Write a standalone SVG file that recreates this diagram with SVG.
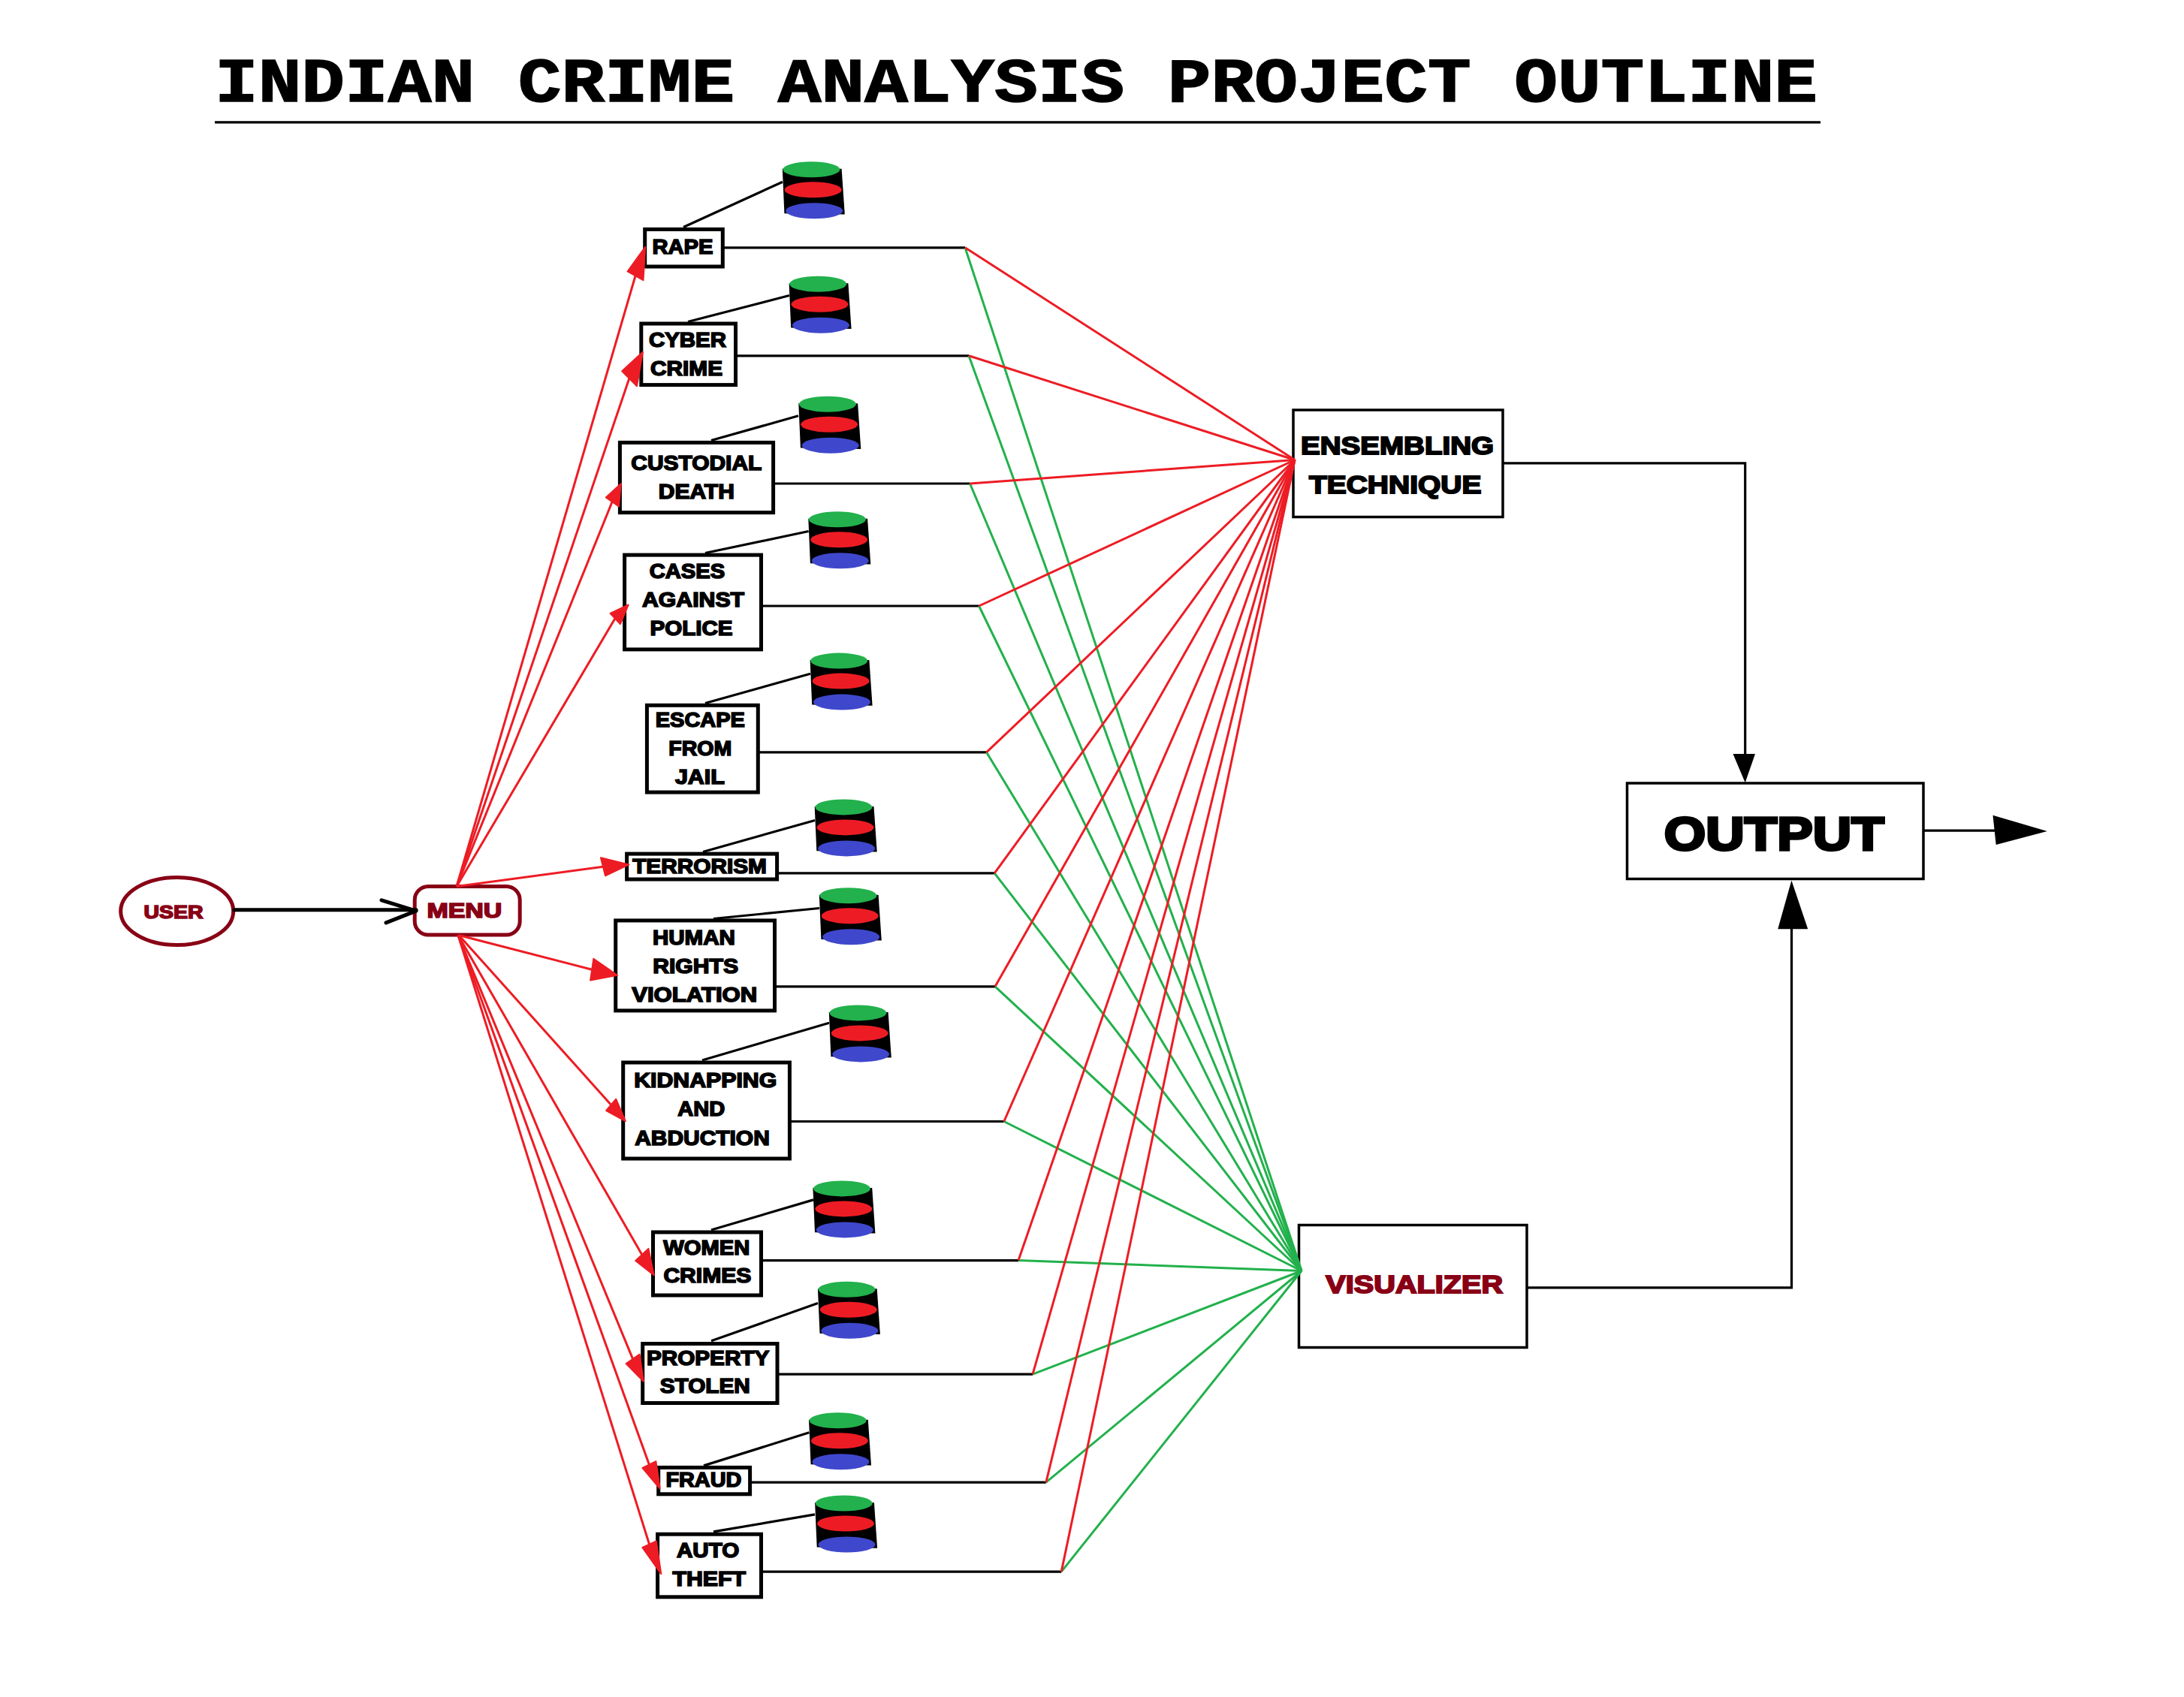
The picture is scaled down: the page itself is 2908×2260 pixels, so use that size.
<svg xmlns="http://www.w3.org/2000/svg" xmlns:xlink="http://www.w3.org/1999/xlink" width="2908" height="2260" viewBox="0 0 2908 2260">
<style>
.bg{fill:#fff}
.b{fill:#fff;stroke:#000;stroke-width:5}
.b2{fill:#fff;stroke:#000;stroke-width:3.5}
.m{fill:#fff;stroke:#880015;stroke-width:5}
text{font-family:"Liberation Sans",Arial,sans-serif;font-weight:700;text-anchor:middle;fill:#000;stroke:#000;stroke-width:1.6;font-size:27px}
.dr{fill:#880015;stroke:#880015}
.sm{font-size:24px}
.big{font-size:34px;stroke-width:2}
.out{font-size:63px;stroke-width:3.5}
.title{font-family:"Liberation Mono",monospace;font-size:84px;stroke-width:1.5;text-anchor:start}
.k{fill:none;stroke:#000;stroke-width:3.2}
.kt{fill:none;stroke:#000;stroke-width:5;stroke-linecap:round;stroke-linejoin:round}
.r{fill:none;stroke:#ED1C24;stroke-width:3}
.g{fill:none;stroke:#22B14C;stroke-width:3}
.rh{fill:#ED1C24;stroke:#ED1C24;stroke-width:2;stroke-linejoin:round}
.kh{fill:#000}
</style>
<defs>
<g id="cyl">
<polygon points="-38.6,-1 40.2,-1 44.4,59.7 -36,58.4" fill="#000"/>
<ellipse cx="0" cy="0" rx="38" ry="10.5" fill="#22B14C"/>
<ellipse cx="2.3" cy="27" rx="38" ry="10.5" fill="#ED1C24"/>
<ellipse cx="3.8" cy="55" rx="38" ry="10.5" fill="#3F48CC"/>
</g>
</defs>
<rect class="bg" width="2908" height="2260"/>
<g id="title">
<text class="title" x="286" y="135" textLength="2134" lengthAdjust="spacingAndGlyphs">INDIAN CRIME ANALYSIS PROJECT OUTLINE</text>
<line class="k" x1="286" y1="162.8" x2="2424" y2="162.8"/>
</g>
<g id="diagram" transform="translate(0 1.5)">
<g id="user"><ellipse class="m" cx="235.7" cy="1212" rx="75" ry="45"/><text class="dr sm" x="231" y="1221" textLength="79" lengthAdjust="spacingAndGlyphs">USER</text></g>
<g id="menu"><rect class="m" x="552.2" y="1179" width="140" height="64.5" rx="18"/><text class="dr" x="618.4" y="1220.7" textLength="100" lengthAdjust="spacingAndGlyphs">MENU</text></g>
<g id="rape"><rect class="b" x="858.7" y="303.9" width="103.6" height="49.6"/><text x="909" y="336.7" textLength="81" lengthAdjust="spacingAndGlyphs">RAPE</text><use xlink:href="#cyl" href="#cyl" x="1080.4" y="224.3"/></g>
<g id="cyber-crime"><rect class="b" x="853.8" y="429.5" width="125.7" height="81.6"/><text x="915.5" y="460.7" textLength="103" lengthAdjust="spacingAndGlyphs">CYBER</text><text x="914" y="498.3" textLength="96" lengthAdjust="spacingAndGlyphs">CRIME</text><use xlink:href="#cyl" href="#cyl" x="1089.2" y="376.7"/></g>
<g id="custodial-death"><rect class="b" x="825.4" y="587.9" width="204.2" height="93.2"/><text x="927.3" y="624.3" textLength="174" lengthAdjust="spacingAndGlyphs">CUSTODIAL</text><text x="927.3" y="662.3" textLength="101" lengthAdjust="spacingAndGlyphs">DEATH</text><use xlink:href="#cyl" href="#cyl" x="1101.9" y="536.7"/></g>
<g id="cases-against-police"><rect class="b" x="831.6" y="737.6" width="181.9" height="125.8"/><text x="915" y="768.4" textLength="100.6" lengthAdjust="spacingAndGlyphs">CASES</text><text x="923" y="806.6" textLength="136" lengthAdjust="spacingAndGlyphs">AGAINST</text><text x="920.5" y="844.5" textLength="110" lengthAdjust="spacingAndGlyphs">POLICE</text><use xlink:href="#cyl" href="#cyl" x="1114.9" y="690.3"/></g>
<g id="escape-from-jail"><rect class="b" x="861.4" y="937.8" width="147.9" height="115.8"/><text x="932.3" y="966.6" textLength="119" lengthAdjust="spacingAndGlyphs">ESCAPE</text><text x="932.3" y="1004.9" textLength="84" lengthAdjust="spacingAndGlyphs">FROM</text><text x="931.9" y="1042.4" textLength="66" lengthAdjust="spacingAndGlyphs">JAIL</text><use xlink:href="#cyl" href="#cyl" x="1117.2" y="878.6"/></g>
<g id="terrorism"><rect class="b" x="834.6" y="1135.6" width="200" height="33.9"/><text x="931.5" y="1161.4" textLength="178.7" lengthAdjust="spacingAndGlyphs">TERRORISM</text><use xlink:href="#cyl" href="#cyl" x="1123.3" y="1073.4"/></g>
<g id="human-rights-violation"><rect class="b" x="819.7" y="1224.4" width="211.8" height="120"/><text x="923.9" y="1256.7" textLength="110" lengthAdjust="spacingAndGlyphs">HUMAN</text><text x="926.2" y="1294.6" textLength="114" lengthAdjust="spacingAndGlyphs">RIGHTS</text><text x="924.7" y="1332.8" textLength="167" lengthAdjust="spacingAndGlyphs">VIOLATION</text><use xlink:href="#cyl" href="#cyl" x="1129.4" y="1191.2"/></g>
<g id="kidnapping-and-abduction"><rect class="b" x="829.7" y="1413.5" width="221.7" height="128"/><text x="939.2" y="1446.1" textLength="190" lengthAdjust="spacingAndGlyphs">KIDNAPPING</text><text x="933.8" y="1484.4" textLength="63" lengthAdjust="spacingAndGlyphs">AND</text><text x="935" y="1523.8" textLength="179.5" lengthAdjust="spacingAndGlyphs">ABDUCTION</text><use xlink:href="#cyl" href="#cyl" x="1142.4" y="1347.4"/></g>
<g id="women-crimes"><rect class="b" x="869.5" y="1639.5" width="144" height="84"/><text x="940.7" y="1669" textLength="115" lengthAdjust="spacingAndGlyphs">WOMEN</text><text x="941.9" y="1706.6" textLength="117" lengthAdjust="spacingAndGlyphs">CRIMES</text><use xlink:href="#cyl" href="#cyl" x="1121" y="1581.4"/></g>
<g id="property-stolen"><rect class="b" x="855.7" y="1788" width="179.3" height="79"/><text x="942.6" y="1816.4" textLength="163.4" lengthAdjust="spacingAndGlyphs">PROPERTY</text><text x="938.8" y="1853.9" textLength="120" lengthAdjust="spacingAndGlyphs">STOLEN</text><use xlink:href="#cyl" href="#cyl" x="1127.5" y="1715.8"/></g>
<g id="fraud"><rect class="b" x="876.7" y="1952.9" width="121.9" height="35.4"/><text x="936.9" y="1978.3" textLength="101" lengthAdjust="spacingAndGlyphs">FRAUD</text><use xlink:href="#cyl" href="#cyl" x="1115.6" y="1890.3"/></g>
<g id="auto-theft"><rect class="b" x="875.6" y="2041.7" width="137.9" height="83.6"/><text x="942.6" y="2072" textLength="83.4" lengthAdjust="spacingAndGlyphs">AUTO</text><text x="944.2" y="2110.3" textLength="97.6" lengthAdjust="spacingAndGlyphs">THEFT</text><use xlink:href="#cyl" href="#cyl" x="1123.7" y="2000.5"/></g>
<g id="ensembling-technique"><rect class="b2" x="1722" y="544.5" width="279" height="142.5"/><text class="big" x="1860.5" y="603.6" textLength="257" lengthAdjust="spacingAndGlyphs">ENSEMBLING</text><text class="big" x="1857.7" y="655.6" textLength="229.5" lengthAdjust="spacingAndGlyphs">TECHNIQUE</text></g>
<g id="visualizer"><rect class="b2" x="1729.5" y="1630" width="303.5" height="163"/><text class="big dr" x="1883.2" y="1720" textLength="235.7" lengthAdjust="spacingAndGlyphs">VISUALIZER</text></g>
<g id="output"><rect class="b2" x="2166.5" y="1041.5" width="394.5" height="127.5"/><text class="out" x="2362.3" y="1130.6" textLength="293" lengthAdjust="spacingAndGlyphs">OUTPUT</text></g>
<g id="connectors">
<g id="db-links">
<line class="k" x1="910" y1="301" x2="1042" y2="240.7"/>
<line class="k" x1="916" y1="427" x2="1051" y2="392"/>
<line class="k" x1="947" y1="585" x2="1063" y2="552.3"/>
<line class="k" x1="939" y1="735" x2="1076.6" y2="706"/>
<line class="k" x1="939" y1="935" x2="1079" y2="895.8"/>
<line class="k" x1="936" y1="1133" x2="1085" y2="1091"/>
<line class="k" x1="950" y1="1222" x2="1091" y2="1208"/>
<line class="k" x1="935" y1="1410.5" x2="1104" y2="1360.8"/>
<line class="k" x1="947" y1="1636.5" x2="1083" y2="1596.4"/>
<line class="k" x1="947" y1="1784.3" x2="1089" y2="1734.1"/>
<line class="k" x1="937" y1="1950.4" x2="1077.4" y2="1906.3"/>
<line class="k" x1="950" y1="2038.4" x2="1085" y2="2015.4"/>
</g>
<g id="trunks">
<line class="k" x1="964" y1="328.3" x2="1285" y2="328.3"/>
<line class="k" x1="981" y1="472.3" x2="1290" y2="472.3"/>
<line class="k" x1="1031" y1="642.5" x2="1291.5" y2="642.5"/>
<line class="k" x1="1015" y1="805.5" x2="1303.5" y2="805.5"/>
<line class="k" x1="1011" y1="1000.3" x2="1313.5" y2="1000.3"/>
<line class="k" x1="1036" y1="1161.3" x2="1324.2" y2="1161.3"/>
<line class="k" x1="1033" y1="1312.3" x2="1325" y2="1312.3"/>
<line class="k" x1="1053" y1="1492" x2="1336.8" y2="1492"/>
<line class="k" x1="1015" y1="1677.1" x2="1356" y2="1677.1"/>
<line class="k" x1="1037" y1="1828.7" x2="1375" y2="1828.7"/>
<line class="k" x1="1000" y1="1972.6" x2="1392.8" y2="1972.6"/>
<line class="k" x1="1015" y1="2091.6" x2="1413.2" y2="2091.6"/>
</g>
<g id="to-visualizer">
<line class="g" x1="1285" y1="328.3" x2="1733" y2="1691"/>
<line class="g" x1="1290" y1="472.3" x2="1733" y2="1691"/>
<line class="g" x1="1291.5" y1="642.5" x2="1733" y2="1691"/>
<line class="g" x1="1303.5" y1="805.5" x2="1733" y2="1691"/>
<line class="g" x1="1313.5" y1="1000.3" x2="1733" y2="1691"/>
<line class="g" x1="1324.2" y1="1161.3" x2="1733" y2="1691"/>
<line class="g" x1="1325" y1="1312.3" x2="1733" y2="1691"/>
<line class="g" x1="1336.8" y1="1492" x2="1733" y2="1691"/>
<line class="g" x1="1356" y1="1677.1" x2="1733" y2="1691"/>
<line class="g" x1="1375" y1="1828.7" x2="1733" y2="1691"/>
<line class="g" x1="1392.8" y1="1972.6" x2="1733" y2="1691"/>
<line class="g" x1="1413.2" y1="2091.6" x2="1733" y2="1691"/>
</g>
<g id="to-ensembling">
<line class="r" x1="1285" y1="328.3" x2="1724" y2="611"/>
<line class="r" x1="1290" y1="472.3" x2="1724" y2="611"/>
<line class="r" x1="1291.5" y1="642.5" x2="1724" y2="611"/>
<line class="r" x1="1303.5" y1="805.5" x2="1724" y2="611"/>
<line class="r" x1="1313.5" y1="1000.3" x2="1724" y2="611"/>
<line class="r" x1="1324.2" y1="1161.3" x2="1724" y2="611"/>
<line class="r" x1="1325" y1="1312.3" x2="1724" y2="611"/>
<line class="r" x1="1336.8" y1="1492" x2="1724" y2="611"/>
<line class="r" x1="1356" y1="1677.1" x2="1724" y2="611"/>
<line class="r" x1="1375" y1="1828.7" x2="1724" y2="611"/>
<line class="r" x1="1392.8" y1="1972.6" x2="1724" y2="611"/>
<line class="r" x1="1413.2" y1="2091.6" x2="1724" y2="611"/>
</g>
<g id="menu-fan">
<line class="r" x1="608" y1="1179" x2="846" y2="366"/>
<line class="r" x1="608" y1="1179" x2="838" y2="502"/>
<line class="r" x1="608" y1="1179" x2="815" y2="667"/>
<line class="r" x1="608" y1="1179" x2="819" y2="822"/>
<line class="r" x1="608" y1="1179" x2="803" y2="1152.7"/>
<line class="r" x1="611" y1="1244" x2="788" y2="1289.7"/>
<line class="r" x1="611" y1="1244" x2="813.7" y2="1470"/>
<line class="r" x1="610" y1="1244" x2="854.8" y2="1669.5"/>
<line class="r" x1="610" y1="1244" x2="842.6" y2="1808.4"/>
<line class="r" x1="610" y1="1244" x2="864.4" y2="1949"/>
<line class="r" x1="610" y1="1244" x2="864.6" y2="2055.2"/>
<polygon class="rh" points="859.2,327.3 835.5,360 856.5,371.7"/>
<polygon class="rh" points="855.8,467.3 828.2,492.7 848,512.7"/>
<polygon class="rh" points="826.7,642.7 806.8,661 824,673"/>
<polygon class="rh" points="836.6,804 812.5,815.4 825.9,829.6"/>
<polygon class="rh" points="837.4,1149.9 799.9,1140.7 806,1164.8"/>
<polygon class="rh" points="822,1297.2 790.3,1275.4 786.1,1304.1"/>
<polygon class="rh" points="832.8,1491.6 807.2,1477.5 820.2,1462.2"/>
<polygon class="rh" points="870.7,1696.6 846.2,1677.5 863.4,1661.4"/>
<polygon class="rh" points="856.9,1838.2 833.6,1814.5 851.6,1802.2"/>
<polygon class="rh" points="878.7,1981 855.4,1953.4 873.4,1944.6"/>
<polygon class="rh" points="880.3,2094.6 855.4,2059.4 873.8,2051"/>
</g>
<g id="outputs">
<line class="kt" x1="312" y1="1210.3" x2="554" y2="1210.3"/>
<polyline class="kt" points="508,1197.3 554,1211.7 514,1227.3"/>
<polyline class="k" points="2001.6,615.3 2323.7,615.3 2323.7,1004"/>
<polygon class="kh" points="2307.5,1002.6 2337,1002.6 2323.7,1040.8"/>
<polyline class="k" points="2033.7,1713.3 2385.5,1713.3 2385.5,1235"/>
<polygon class="kh" points="2385.4,1171 2367.2,1235.7 2407.2,1235.7"/>
<line class="k" x1="2561.6" y1="1104.6" x2="2656" y2="1104.6"/>
<polygon class="kh" points="2653.5,1084.2 2657.7,1123.5 2725.8,1105.6"/>
</g>
</g>
</g>
</svg>
